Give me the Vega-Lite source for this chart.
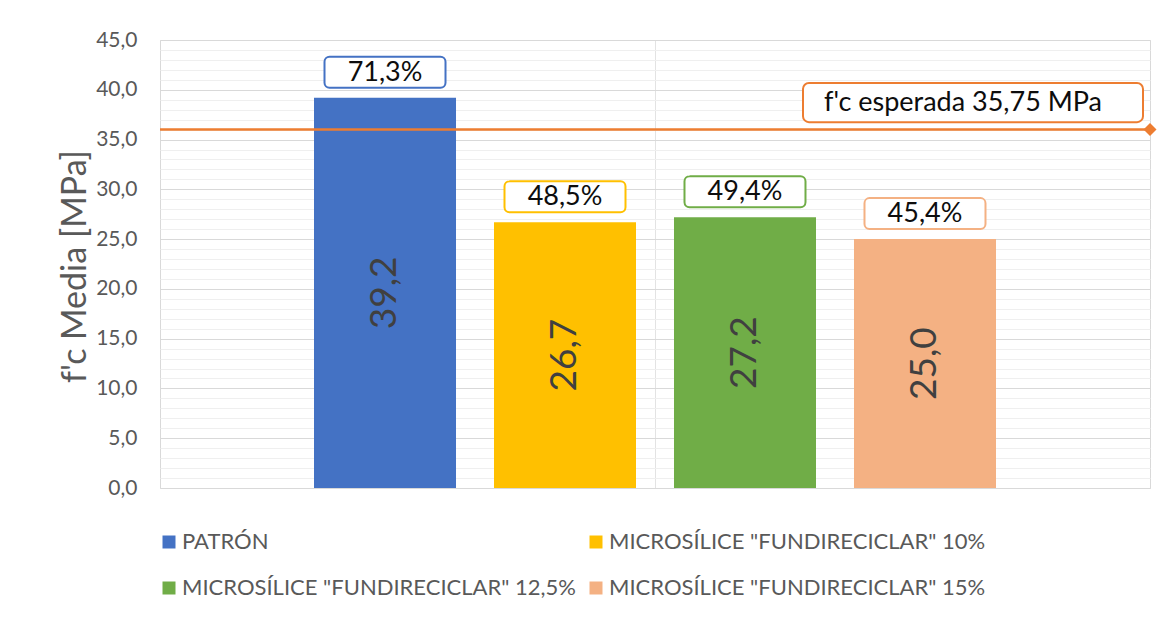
{
  "$schema": "https://vega.github.io/schema/vega-lite/v6.json",
  "width": 990,
  "height": 448,
  "autosize": {"type": "none"},
  "padding": {"left": 160, "top": 40, "right": 19, "bottom": 131},
  "background": "white",
  "config": {
    "locale": {"number": {"decimal": ",", "thousands": ".", "grouping": [3], "currency": ["", " €"]}},
    "font": "Lato",
    "view": {"stroke": "#d9d9d9", "strokeWidth": 1}
  },
  "datasets": {
    "ensayos": [
      {"serie": "PATRÓN", "fc": 39.2, "pct": 0.713},
      {"serie": "MICROSÍLICE \"FUNDIRECICLAR\" 10%", "fc": 26.7, "pct": 0.485},
      {"serie": "MICROSÍLICE \"FUNDIRECICLAR\" 12,5%", "fc": 27.2, "pct": 0.494},
      {"serie": "MICROSÍLICE \"FUNDIRECICLAR\" 15%", "fc": 25.0, "pct": 0.454}
    ],
    "esperada": [
      {"pos": 0, "fc": 36, "etiqueta": "f'c esperada 35,75 MPa"},
      {"pos": 1, "fc": 36, "etiqueta": "f'c esperada 35,75 MPa"}
    ]
  },
  "layer": [
    {
      "data": {"name": "ensayos"},
      "encoding": {
        "x": {"field": "serie", "type": "nominal", "sort": null, "axis": null,
              "scale": {"type": "band", "paddingInner": 0.2111, "paddingOuter": 0.8556}},
        "y": {"field": "fc", "type": "quantitative",
              "scale": {"domain": [0, 45], "nice": false, "zero": true},
              "axis": {"values": [0, 5, 10, 15, 20, 25, 30, 35, 40, 45], "format": ".1f",
                       "grid": true, "gridColor": "#d9d9d9", "domain": false, "ticks": false,
                       "labelPadding": 23, "labelFontSize": 21, "labelColor": "#595959",
                       "title": "f'c Media [MPa]", "titleFontSize": 34, "titleFontWeight": "normal",
                       "titleColor": "#595959", "titleX": -85, "titleY": 226, "titleAngle": 270,
                       "titleAlign": "center", "titleBaseline": "middle"}}
      },
      "layer": [
        {
          "mark": {"type": "bar"},
          "encoding": {
            "color": {"field": "serie", "type": "nominal", "sort": null,
                      "scale": {"domain": ["PATRÓN", "MICROSÍLICE \"FUNDIRECICLAR\" 10%", "MICROSÍLICE \"FUNDIRECICLAR\" 12,5%", "MICROSÍLICE \"FUNDIRECICLAR\" 15%"],
                                "range": ["#4472C4", "#FFC000", "#70AD47", "#F4B183"]},
                      "legend": {"orient": "none", "legendX": -2, "legendY": 491, "columns": 2,
                                 "direction": "horizontal",
                                 "title": null, "symbolType": "square", "symbolSize": 169,
                                 "symbolStrokeWidth": 0, "labelFontSize": 22, "labelColor": "#595959",
                                 "labelLimit": 0, "columnPadding": 9, "rowPadding": 24, "labelOffset": 2}}
          }
        },
        {
          "mark": {"type": "point", "filled": true, "fill": "white", "opacity": 1, "strokeWidth": 2,
                   "size": 14641, "yOffset": -25.5,
                   "shape": "M-0.917,-0.256 H0.917 A0.083,0.083 0 0 1 1,-0.173 V0.173 A0.083,0.083 0 0 1 0.917,0.256 H-0.917 A0.083,0.083 0 0 1 -1,0.173 V-0.173 A0.083,0.083 0 0 1 -0.917,-0.256 Z"},
          "encoding": {
            "stroke": {"field": "serie", "type": "nominal", "sort": null, "legend": null,
                       "scale": {"domain": ["PATRÓN", "MICROSÍLICE \"FUNDIRECICLAR\" 10%", "MICROSÍLICE \"FUNDIRECICLAR\" 12,5%", "MICROSÍLICE \"FUNDIRECICLAR\" 15%"],
                                 "range": ["#4472C4", "#FFC000", "#70AD47", "#F4B183"]}}
          }
        },
        {
          "mark": {"type": "text", "yOffset": -25, "fontSize": 27, "color": "#0d0d0d", "baseline": "middle", "align": "center"},
          "encoding": {"text": {"field": "pct", "type": "quantitative", "format": ".1%"}}
        }
      ]
    },
    {
      "data": {"name": "ensayos"},
      "mark": {"type": "text", "angle": 270, "fontSize": 37, "color": "#404040", "baseline": "middle", "align": "center"},
      "encoding": {
        "x": {"field": "serie", "type": "nominal", "sort": null, "axis": null,
              "scale": {"type": "band", "paddingInner": 0.2111, "paddingOuter": 0.8556}},
        "y": {"field": "fc", "type": "quantitative", "scale": {"domain": [0, 90], "nice": false}, "axis": null},
        "text": {"field": "fc", "type": "quantitative", "format": ".1f"}
      }
    },
    {
      "data": {"name": "esperada"},
      "encoding": {
        "x": {"field": "pos", "type": "quantitative", "scale": {"domain": [0, 1], "nice": false},
              "axis": {"orient": "top", "values": [0.5], "grid": true, "gridColor": "#e3e3e3",
                       "labels": false, "ticks": false, "domain": false, "title": null}},
        "y": {"field": "fc", "type": "quantitative", "scale": {"domain": [0, 45], "nice": false},
              "axis": {"orient": "right", "values": [1,2,3,4,6,7,8,9,11,12,13,14,16,17,18,19,21,22,23,24,26,27,28,29,31,32,33,34,36,37,38,39,41,42,43,44],
                       "grid": true, "gridColor": "#efefef", "labels": false, "ticks": false, "domain": false, "title": null}}
      },
      "layer": [
        {"mark": {"type": "line", "color": "#ED7D31", "strokeWidth": 2.5}},
        {
          "transform": [{"filter": "datum.pos == 1"}],
          "mark": {"type": "point", "shape": "diamond", "filled": true, "color": "#ED7D31", "size": 170, "opacity": 1}
        },
        {
          "transform": [{"filter": "datum.pos == 1"}],
          "mark": {"type": "point", "filled": true, "fill": "white", "stroke": "#ED7D31", "strokeWidth": 2, "opacity": 1,
                   "size": 115600, "xOffset": -177, "yOffset": -27,
                   "shape": "M-0.965,-0.115 H0.965 A0.035,0.035 0 0 1 1,-0.08 V0.08 A0.035,0.035 0 0 1 0.965,0.115 H-0.965 A0.035,0.035 0 0 1 -1,0.08 V-0.08 A0.035,0.035 0 0 1 -0.965,-0.115 Z"}
        },
        {
          "transform": [{"filter": "datum.pos == 1"}],
          "mark": {"type": "text", "fontSize": 27, "color": "#0d0d0d", "xOffset": -187, "yOffset": -27, "baseline": "middle", "align": "center"},
          "encoding": {"text": {"field": "etiqueta", "type": "nominal"}}
        }
      ]
    }
  ],
  "resolve": {"scale": {"x": "independent", "y": "independent", "color": "independent", "stroke": "independent"},
              "axis": {"x": "independent", "y": "independent"}}
}
